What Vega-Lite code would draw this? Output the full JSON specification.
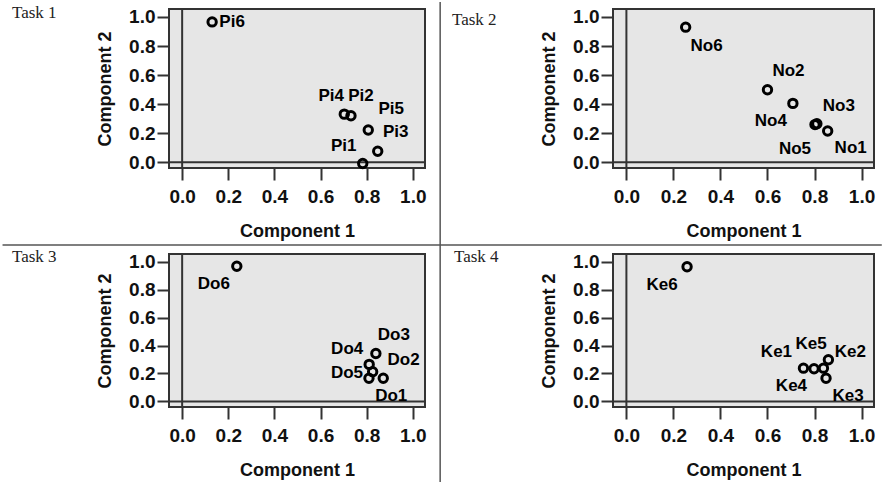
{
  "$schema": "https://vega.github.io/schema/vega-lite/v6.json",
  "padding": 0,
  "background": "#ffffff",
  "data": {"values": [
    {"task": "Task 1", "label": "Pi1", "c1": 0.783, "c2": -0.009},
    {"task": "Task 1", "label": "Pi2", "c1": 0.732, "c2": 0.320},
    {"task": "Task 1", "label": "Pi3", "c1": 0.848, "c2": 0.075},
    {"task": "Task 1", "label": "Pi4", "c1": 0.703, "c2": 0.331},
    {"task": "Task 1", "label": "Pi5", "c1": 0.807, "c2": 0.222},
    {"task": "Task 1", "label": "Pi6", "c1": 0.130, "c2": 0.966},
    {"task": "Task 2", "label": "No1", "c1": 0.856, "c2": 0.215},
    {"task": "Task 2", "label": "No2", "c1": 0.600, "c2": 0.499},
    {"task": "Task 2", "label": "No3", "c1": 0.810, "c2": 0.265},
    {"task": "Task 2", "label": "No4", "c1": 0.708, "c2": 0.405},
    {"task": "Task 2", "label": "No5", "c1": 0.802, "c2": 0.259},
    {"task": "Task 2", "label": "No6", "c1": 0.252, "c2": 0.930},
    {"task": "Task 3", "label": "Do1", "c1": 0.872, "c2": 0.166},
    {"task": "Task 3", "label": "Do2", "c1": 0.826, "c2": 0.213},
    {"task": "Task 3", "label": "Do3", "c1": 0.840, "c2": 0.343},
    {"task": "Task 3", "label": "Do4", "c1": 0.811, "c2": 0.265},
    {"task": "Task 3", "label": "Do5", "c1": 0.810, "c2": 0.166},
    {"task": "Task 3", "label": "Do6", "c1": 0.237, "c2": 0.967},
    {"task": "Task 4", "label": "Ke1", "c1": 0.753, "c2": 0.238},
    {"task": "Task 4", "label": "Ke2", "c1": 0.859, "c2": 0.298},
    {"task": "Task 4", "label": "Ke3", "c1": 0.849, "c2": 0.166},
    {"task": "Task 4", "label": "Ke4", "c1": 0.838, "c2": 0.238},
    {"task": "Task 4", "label": "Ke5", "c1": 0.798, "c2": 0.234},
    {"task": "Task 4", "label": "Ke6", "c1": 0.258, "c2": 0.964}
  ]},
  "columns": 2,
  "bounds": "flush",
  "spacing": {"row": 86, "column": 188},
  "concat": [
    {
      "width": 256, "height": 159,
      "title": {"text": "Task 1", "anchor": "start", "frame": "group", "dx": -157, "dy": 25},
      "layer": [
        {"data": {"values": [{}]}, "mark": {"type": "rule", "color": "#333", "strokeWidth": 2}, "encoding": {"x": {"datum": 0, "type": "quantitative", "scale": {"domain": [-0.057, 1.053], "nice": false, "zero": false}}}},
        {"data": {"values": [{}]}, "mark": {"type": "rule", "color": "#333", "strokeWidth": 2}, "encoding": {"y": {"datum": 0, "type": "quantitative", "scale": {"domain": [-0.04, 1.055], "nice": false, "zero": false}}}},
        {"transform": [{"filter": "datum.task == 'Task 1'"}], "mark": {"type": "point", "shape": "circle", "filled": false, "stroke": "#000", "strokeWidth": 3, "size": 70, "opacity": 1},
         "encoding": {"x": {"field": "c1", "type": "quantitative", "title": "Component 1", "scale": {"domain": [-0.057, 1.053], "nice": false, "zero": false}}, "y": {"field": "c2", "type": "quantitative", "title": "Component 2", "scale": {"domain": [-0.04, 1.055], "nice": false, "zero": false}}}},
        {"transform": [{"filter": "datum.task == 'Task 1'"}], "mark": {"type": "text", "font": "Liberation Sans", "fontSize": 17, "fontWeight": "bold", "color": "#000", "align": "center", "baseline": "middle",
          "dx": {"expr": "{'Pi6':20,'Pi4':-13,'Pi2':10,'Pi5':23,'Pi3':18,'Pi1':-19}[datum.label]"},
          "dy": {"expr": "{'Pi6':0,'Pi4':-18,'Pi2':-20,'Pi5':-21,'Pi3':-19,'Pi1':-17}[datum.label]"}},
         "encoding": {"x": {"field": "c1", "type": "quantitative"}, "y": {"field": "c2", "type": "quantitative"}, "text": {"field": "label"}}},
        {"data": {"values": [{}]}, "mark": {"type": "rule", "color": "#555", "strokeWidth": 1.5},
         "encoding": {"x": {"datum": 1.1187, "type": "quantitative", "scale": {"domain": [-0.057, 1.053], "nice": false, "zero": false}}, "y": {"datum": 1.1032, "type": "quantitative", "scale": {"domain": [-0.04, 1.055], "nice": false, "zero": false}}, "y2": {"datum": -2.2163}}},
        {"data": {"values": [{}]}, "mark": {"type": "rule", "color": "#555", "strokeWidth": 1.5},
         "encoding": {"y": {"datum": -0.5703, "type": "quantitative", "scale": {"domain": [-0.04, 1.055], "nice": false, "zero": false}}, "x": {"datum": -0.7788, "type": "quantitative", "scale": {"domain": [-0.057, 1.053], "nice": false, "zero": false}}, "x2": {"datum": 3.0336}}}
      ]
    },
    {
      "width": 261, "height": 159,
      "title": {"text": "Task 2", "anchor": "start", "frame": "group", "dx": -161, "dy": 25},
      "layer": [
        {"data": {"values": [{}]}, "mark": {"type": "rule", "color": "#333", "strokeWidth": 2}, "encoding": {"x": {"datum": 0, "type": "quantitative", "scale": {"domain": [-0.057, 1.053], "nice": false, "zero": false}}}},
        {"data": {"values": [{}]}, "mark": {"type": "rule", "color": "#333", "strokeWidth": 2}, "encoding": {"y": {"datum": 0, "type": "quantitative", "scale": {"domain": [-0.04, 1.055], "nice": false, "zero": false}}}},
        {"transform": [{"filter": "datum.task == 'Task 2'"}], "mark": {"type": "point", "shape": "circle", "filled": false, "stroke": "#000", "strokeWidth": 3, "size": 70, "opacity": 1},
         "encoding": {"x": {"field": "c1", "type": "quantitative", "title": "Component 1", "scale": {"domain": [-0.057, 1.053], "nice": false, "zero": false}}, "y": {"field": "c2", "type": "quantitative", "title": "Component 2", "scale": {"domain": [-0.04, 1.055], "nice": false, "zero": false}}}},
        {"transform": [{"filter": "datum.task == 'Task 2'"}], "mark": {"type": "text", "font": "Liberation Sans", "fontSize": 17, "fontWeight": "bold", "color": "#000", "align": "center", "baseline": "middle",
          "dx": {"expr": "{'No6':21,'No2':21,'No4':-22,'No3':22,'No5':-20,'No1':23}[datum.label]"},
          "dy": {"expr": "{'No6':19,'No2':-19,'No4':18,'No3':-18,'No5':24,'No1':17}[datum.label]"}},
         "encoding": {"x": {"field": "c1", "type": "quantitative"}, "y": {"field": "c2", "type": "quantitative"}, "text": {"field": "label"}}}
      ]
    },
    {
      "width": 256, "height": 153,
      "title": {"text": "Task 3", "anchor": "start", "frame": "group", "dx": -157, "dy": 17},
      "layer": [
        {"data": {"values": [{}]}, "mark": {"type": "rule", "color": "#333", "strokeWidth": 2}, "encoding": {"x": {"datum": 0, "type": "quantitative", "scale": {"domain": [-0.057, 1.053], "nice": false, "zero": false}}}},
        {"data": {"values": [{}]}, "mark": {"type": "rule", "color": "#333", "strokeWidth": 2}, "encoding": {"y": {"datum": 0, "type": "quantitative", "scale": {"domain": [-0.04, 1.055], "nice": false, "zero": false}}}},
        {"transform": [{"filter": "datum.task == 'Task 3'"}], "mark": {"type": "point", "shape": "circle", "filled": false, "stroke": "#000", "strokeWidth": 3, "size": 70, "opacity": 1},
         "encoding": {"x": {"field": "c1", "type": "quantitative", "title": "Component 1", "scale": {"domain": [-0.057, 1.053], "nice": false, "zero": false}}, "y": {"field": "c2", "type": "quantitative", "title": "Component 2", "scale": {"domain": [-0.04, 1.055], "nice": false, "zero": false}}}},
        {"transform": [{"filter": "datum.task == 'Task 3'"}], "mark": {"type": "text", "font": "Liberation Sans", "fontSize": 17, "fontWeight": "bold", "color": "#000", "align": "center", "baseline": "middle",
          "dx": {"expr": "{'Do6':-23,'Do3':18,'Do4':-22,'Do2':31,'Do5':-22,'Do1':8}[datum.label]"},
          "dy": {"expr": "{'Do6':18,'Do3':-18,'Do4':-15,'Do2':-12,'Do5':-5,'Do1':18}[datum.label]"}},
         "encoding": {"x": {"field": "c1", "type": "quantitative"}, "y": {"field": "c2", "type": "quantitative"}, "text": {"field": "label"}}}
      ]
    },
    {
      "width": 261, "height": 153,
      "title": {"text": "Task 4", "anchor": "start", "frame": "group", "dx": -159, "dy": 17},
      "layer": [
        {"data": {"values": [{}]}, "mark": {"type": "rule", "color": "#333", "strokeWidth": 2}, "encoding": {"x": {"datum": 0, "type": "quantitative", "scale": {"domain": [-0.057, 1.053], "nice": false, "zero": false}}}},
        {"data": {"values": [{}]}, "mark": {"type": "rule", "color": "#333", "strokeWidth": 2}, "encoding": {"y": {"datum": 0, "type": "quantitative", "scale": {"domain": [-0.04, 1.055], "nice": false, "zero": false}}}},
        {"transform": [{"filter": "datum.task == 'Task 4'"}], "mark": {"type": "point", "shape": "circle", "filled": false, "stroke": "#000", "strokeWidth": 3, "size": 70, "opacity": 1},
         "encoding": {"x": {"field": "c1", "type": "quantitative", "title": "Component 1", "scale": {"domain": [-0.057, 1.053], "nice": false, "zero": false}}, "y": {"field": "c2", "type": "quantitative", "title": "Component 2", "scale": {"domain": [-0.04, 1.055], "nice": false, "zero": false}}}},
        {"transform": [{"filter": "datum.task == 'Task 4'"}], "mark": {"type": "text", "font": "Liberation Sans", "fontSize": 17, "fontWeight": "bold", "color": "#000", "align": "center", "baseline": "middle",
          "dx": {"expr": "{'Ke6':-25,'Ke1':-27,'Ke5':-3,'Ke2':22,'Ke4':-32,'Ke3':22}[datum.label]"},
          "dy": {"expr": "{'Ke6':18,'Ke1':-16,'Ke5':-25,'Ke2':-8,'Ke4':18,'Ke3':18}[datum.label]"}},
         "encoding": {"x": {"field": "c1", "type": "quantitative"}, "y": {"field": "c2", "type": "quantitative"}, "text": {"field": "label"}}}
      ]
    }
  ],
  "config": {
    "view": {"fill": "#e6e6e6", "stroke": "#333", "strokeWidth": 2},
    "title": {"font": "Liberation Serif", "fontSize": 17, "fontWeight": "normal", "color": "#222", "offset": 4},
    "axis": {"domain": false, "grid": false, "ticks": true, "tickSize": 12, "tickWidth": 2, "tickColor": "#333",
      "labelFont": "Liberation Sans", "labelFontSize": 19, "labelFontWeight": "bold", "labelColor": "#111",
      "labelFlush": false, "labelOverlap": false,
      "titleFont": "Liberation Sans", "titleFontSize": 18, "titleFontWeight": "bold", "titleColor": "#111",
      "values": [0, 0.2, 0.4, 0.6, 0.8, 1.0], "format": ".1f"},
    "axisX": {"labelPadding": 7, "titlePadding": 16},
    "axisY": {"labelPadding": 2, "titlePadding": 14}
  }
}
